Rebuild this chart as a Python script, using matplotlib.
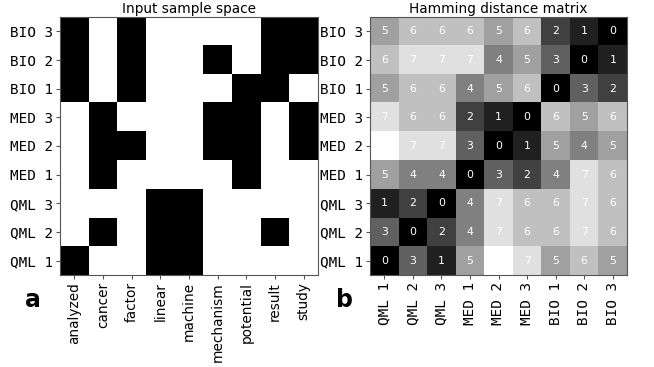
import matplotlib
matplotlib.use("Agg")
import matplotlib.pyplot as plt
import numpy as np

samples = ["QML 1", "QML 2", "QML 3", "MED 1", "MED 2", "MED 3", "BIO 1", "BIO 2", "BIO 3"]
words = ["analyzed", "cancer", "factor", "linear", "machine", "mechanism", "potential", "result", "study"]

# binary occurrence matrix, rows in sample order (QML 1 ... BIO 3)
occurrence = [
    [1, 0, 0, 1, 1, 0, 0, 0, 0],  # QML 1
    [0, 1, 0, 1, 1, 0, 0, 1, 0],  # QML 2
    [0, 0, 0, 1, 1, 0, 0, 0, 0],  # QML 3
    [0, 1, 0, 0, 0, 0, 1, 0, 0],  # MED 1
    [0, 1, 1, 0, 0, 1, 1, 0, 1],  # MED 2
    [0, 1, 0, 0, 0, 1, 1, 0, 1],  # MED 3
    [1, 0, 1, 0, 0, 0, 1, 1, 0],  # BIO 1
    [1, 0, 1, 0, 0, 1, 0, 1, 1],  # BIO 2
    [1, 0, 1, 0, 0, 0, 0, 1, 1],  # BIO 3
]

# Hamming distances, rows/cols in sample order
hamming = [
    [0, 3, 1, 5, 8, 7, 5, 6, 5],
    [3, 0, 2, 4, 7, 6, 6, 7, 6],
    [1, 2, 0, 4, 7, 6, 6, 7, 6],
    [5, 4, 4, 0, 3, 2, 4, 7, 6],
    [8, 7, 7, 3, 0, 1, 5, 4, 5],
    [7, 6, 6, 2, 1, 0, 6, 5, 6],
    [5, 6, 6, 4, 5, 6, 0, 3, 2],
    [6, 7, 7, 7, 4, 5, 3, 0, 1],
    [5, 6, 6, 6, 5, 6, 2, 1, 0],
]

occ = np.array(occurrence)
ham = np.array(hamming)

fig = plt.figure(figsize=(6.54, 3.67), dpi=100)
W, H = 654, 367
ax1 = fig.add_axes([60 / W, 1 - 275 / H, 258 / W, 258 / H])
ax2 = fig.add_axes([370 / W, 1 - 275 / H, 257 / W, 258 / H])

sans_fs = 9.8
mono_fs = 10.3

ax1.imshow(occ, cmap="gray_r", origin="lower", aspect="auto", vmin=0, vmax=1)
ax1.set_title("Input sample space", fontsize=sans_fs, pad=3)
ax1.set_xticks(range(len(words)))
ax1.set_xticklabels(words, rotation=90, fontsize=sans_fs)
ax1.set_yticks(range(len(samples)))
ax1.set_yticklabels(samples, fontsize=mono_fs, family="DejaVu Sans Mono")

ax2.imshow(ham, cmap="gray", origin="lower", aspect="auto", vmin=0, vmax=8)
ax2.set_title("Hamming distance matrix", fontsize=sans_fs, pad=3)
ax2.set_xticks(range(len(samples)))
ax2.set_xticklabels(samples, rotation=90, fontsize=mono_fs, family="DejaVu Sans Mono")
ax2.set_yticks(range(len(samples)))
ax2.set_yticklabels(samples, fontsize=mono_fs, family="DejaVu Sans Mono")
for i in range(len(samples)):
    for j in range(len(samples)):
        ax2.text(j, i, str(ham[i, j]), ha="center", va="center", color="white", fontsize=7.8)

for ax in (ax1, ax2):
    for s in ax.spines.values():
        s.set_color("#555555")
        s.set_linewidth(0.8)
    ax.tick_params(length=3, color="#555555", pad=2)

fig.text(33 / W, 1 - 300 / H, "a", fontsize=17, fontweight="bold", ha="center", va="center")
fig.text(345 / W, 1 - 300 / H, "b", fontsize=17, fontweight="bold", ha="center", va="center")

fig.savefig("out.png", dpi=100)
